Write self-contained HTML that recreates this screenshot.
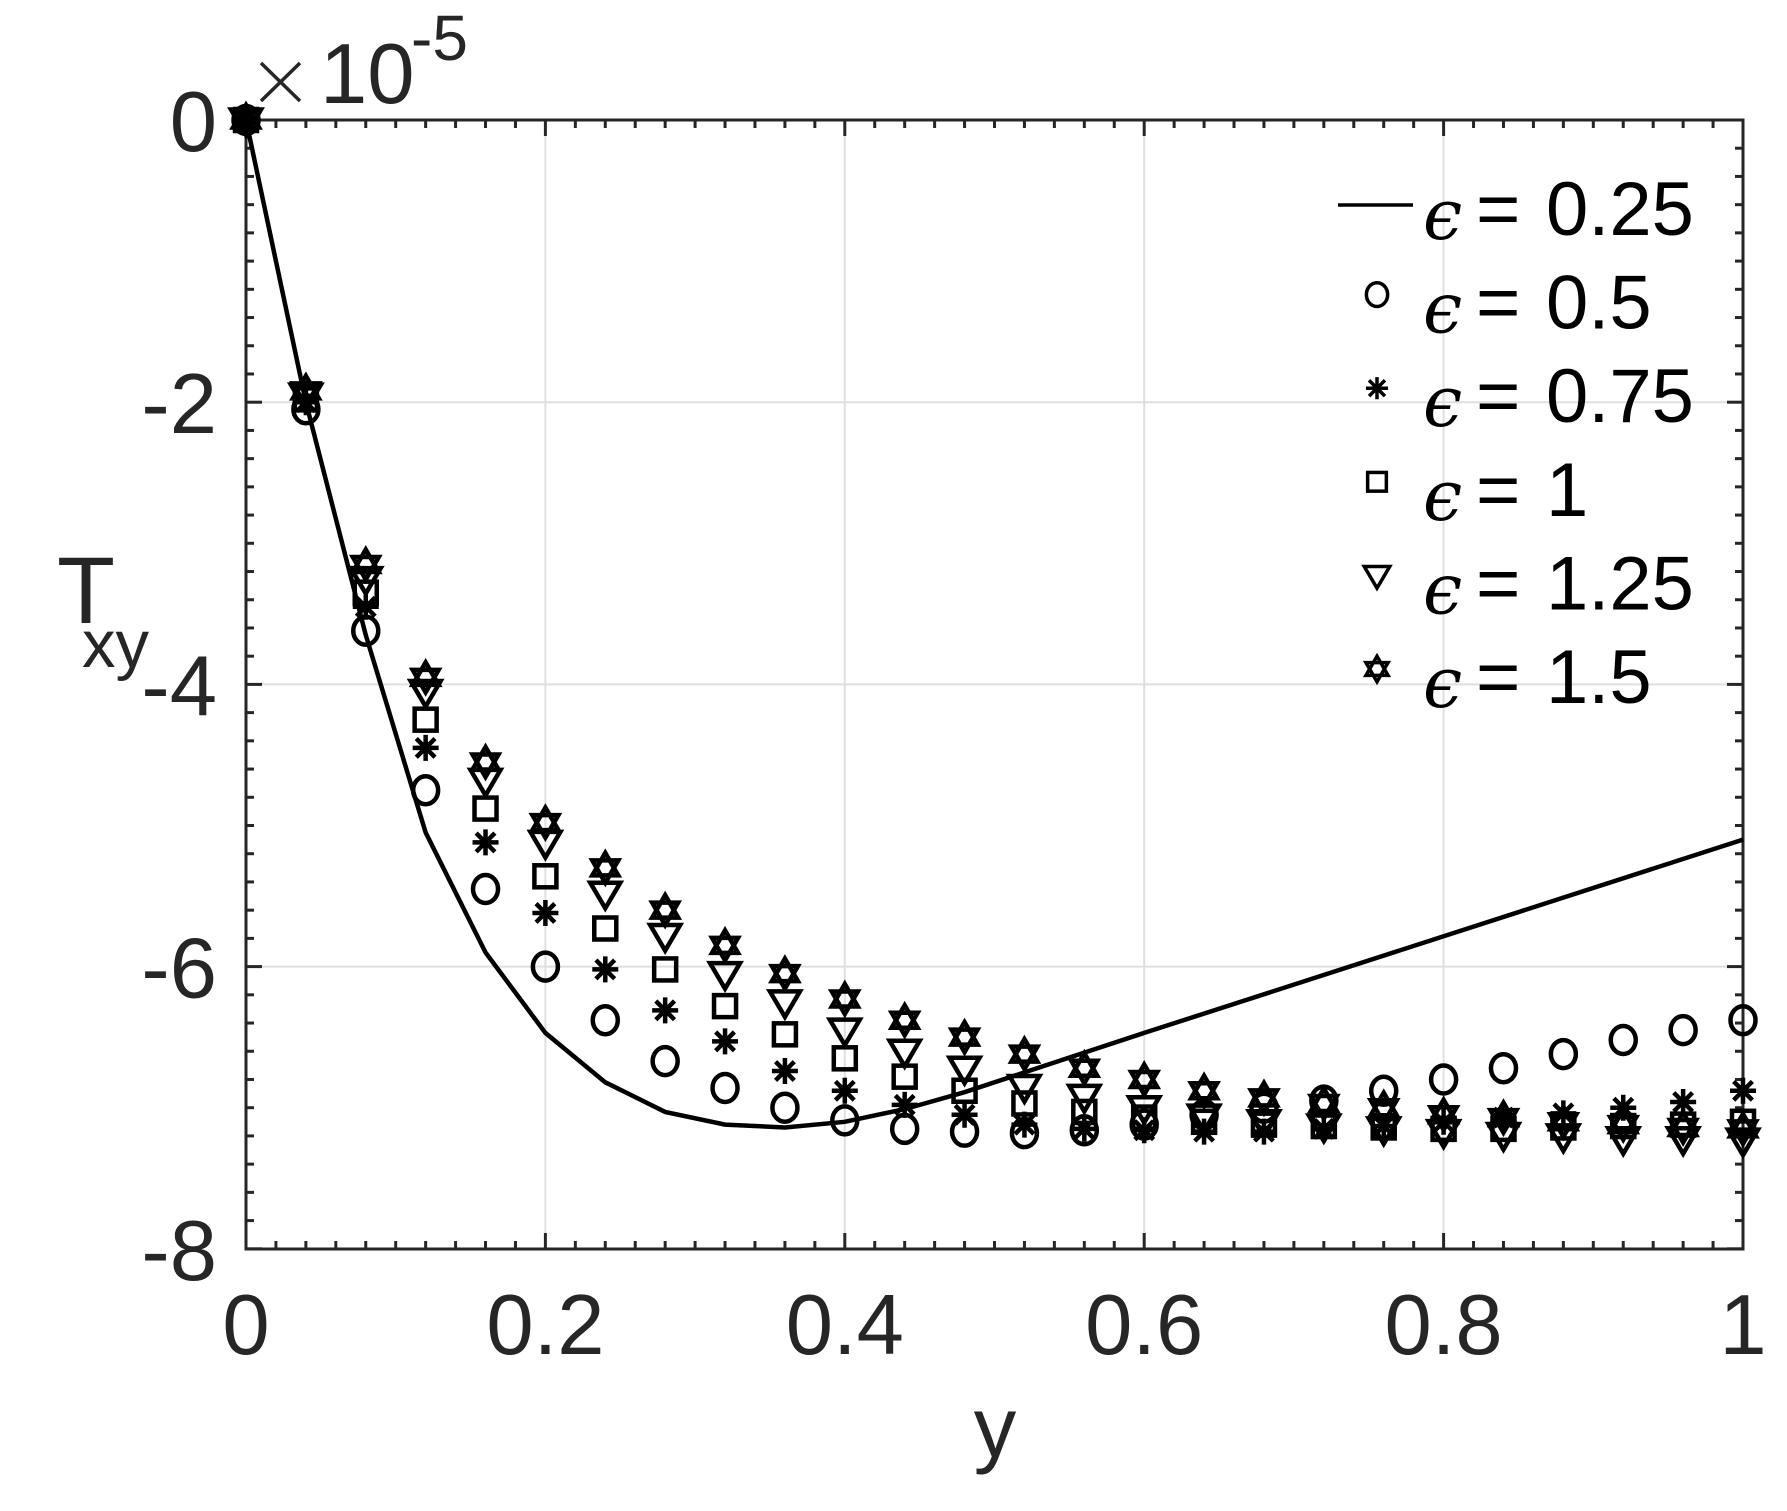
<!DOCTYPE html>
<html><head><meta charset="utf-8"><style>
html,body{margin:0;padding:0;background:#fff;}
svg{display:block;}
text{font-family:"Liberation Sans",sans-serif;fill:#262626;}
</style></head><body>
<svg id="s" width="1787" height="1511" viewBox="0 0 1787 1511" xmlns="http://www.w3.org/2000/svg">
<rect width="1787" height="1511" fill="#fff"/>
<g id="grid" stroke="#dfdfdf" stroke-width="2"></g>
<g id="ticks" stroke="#262626" stroke-width="3"></g>
<rect x="246" y="120" width="1497" height="1129" fill="none" stroke="#262626" stroke-width="3"/>
<g id="labels" font-size="85"></g>
<text x="57" y="623" font-size="95">T</text>
<text x="82" y="667" font-size="67">xy</text>
<text x="995" y="1457" font-size="85" text-anchor="middle">y</text>
<path d="M261,63L300,101M300,63L261,101" stroke="#262626" stroke-width="3.5"/>
<text x="320" y="103" font-size="85">10</text>
<text x="411" y="60" font-size="64">-5</text>
<g id="data" fill="none" stroke="#000" stroke-width="4.5"></g>
<g id="legend"></g>
</svg>
<script>
const NS="http://www.w3.org/2000/svg";
function el(p,t,a,txt){const e=document.createElementNS(NS,t);for(const k in a)e.setAttribute(k,a[k]);if(txt!==undefined)e.textContent=txt;p.appendChild(e);return e;}
const X=v=>246+v*1497, Y=v=>120-v*141.1;
const g=document.getElementById('grid'),tk=document.getElementById('ticks'),lb=document.getElementById('labels');
for(let i=1;i<5;i++){el(g,'line',{x1:X(i*0.2),x2:X(i*0.2),y1:120,y2:1249});}
for(let i=1;i<4;i++){el(g,'line',{x1:246,x2:1743,y1:Y(-2*i),y2:Y(-2*i)});}
for(let i=0;i<=50;i++){const x=X(i*0.02);const L=(i%10==0)?16:8;
 el(tk,'line',{x1:x,x2:x,y1:1249,y2:1249-L});el(tk,'line',{x1:x,x2:x,y1:120,y2:120+L});}
for(let i=0;i<=40;i++){const y=Y(-i*0.2);const L=(i%10==0)?16:8;
 el(tk,'line',{x1:246,x2:246+L,y1:y,y2:y});el(tk,'line',{x1:1743,x2:1743-L,y1:y,y2:y});}
['0','0.2','0.4','0.6','0.8','1'].forEach((t,i)=>el(lb,'text',{x:X(i*0.2),y:1354,'text-anchor':'middle'},t));
['0','-2','-4','-6','-8'].forEach((t,i)=>el(lb,'text',{x:217,y:Y(-2*i)+31,'text-anchor':'end'},t));
const d=document.getElementById('data');
const line=[[0,0],[0.04,-2.0],[0.08,-3.65],[0.12,-5.05],[0.16,-5.9],[0.2,-6.47],[0.24,-6.82],[0.28,-7.03],[0.32,-7.12],[0.36,-7.14],[0.4,-7.1],[0.44,-7.01],[0.48,-6.89],[0.52,-6.75],[0.56,-6.61],[0.6,-6.47],[1,-5.1]];
el(d,'polyline',{points:line.map(p=>X(p[0])+','+Y(p[1])).join(' ')});
const S={
c:[0,-2.05,-3.62,-4.75,-5.45,-6.0,-6.38,-6.67,-6.86,-7.0,-7.09,-7.15,-7.17,-7.18,-7.16,-7.12,-7.05,-7.0,-6.95,-6.88,-6.8,-6.72,-6.62,-6.52,-6.45,-6.38],
a:[0,-2.0,-3.45,-4.45,-5.12,-5.62,-6.02,-6.31,-6.53,-6.74,-6.88,-6.98,-7.05,-7.12,-7.15,-7.16,-7.17,-7.17,-7.15,-7.13,-7.1,-7.07,-7.04,-7.0,-6.96,-6.88],
s:[0,-1.98,-3.35,-4.25,-4.88,-5.36,-5.73,-6.02,-6.28,-6.48,-6.65,-6.78,-6.88,-6.97,-7.03,-7.07,-7.1,-7.12,-7.13,-7.14,-7.15,-7.15,-7.14,-7.13,-7.12,-7.1],
t:[0,-1.95,-3.25,-4.05,-4.68,-5.12,-5.48,-5.78,-6.05,-6.25,-6.45,-6.6,-6.72,-6.85,-6.92,-7.0,-7.06,-7.1,-7.13,-7.15,-7.17,-7.19,-7.2,-7.22,-7.22,-7.23],
h:[0,-1.92,-3.15,-3.95,-4.55,-4.98,-5.3,-5.6,-5.85,-6.05,-6.23,-6.38,-6.5,-6.62,-6.72,-6.8,-6.88,-6.93,-6.97,-7.0,-7.05,-7.07,-7.1,-7.12,-7.14,-7.15]};
function mk(p,type,x,y,sc){sc=sc||1;
 if(type=='c')el(p,'ellipse',{cx:x,cy:y,rx:12.5*sc,ry:14*sc});
 else if(type=='a'){const r=13*sc;el(p,'path',{d:`M${x-r},${y}H${x+r}M${x},${y-r}V${y+r}M${x-r*.72},${y-r*.72}L${x+r*.72},${y+r*.72}M${x-r*.72},${y+r*.72}L${x+r*.72},${y-r*.72}`});}
 else if(type=='s'){const h=11*sc;el(p,'rect',{x:x-h,y:y-h,width:2*h,height:2*h});}
 else if(type=='t'){const h=15*sc;el(p,'path',{d:`M${x-h},${y-h*0.7}H${x+h}L${x},${y+h}Z`});}
 else if(type=='h'){const r=15*sc,q=r*0.5;let a=`M${x},${y-r}L${x+r*.866},${y+q}L${x-r*.866},${y+q}Z M${x},${y+r}L${x+r*.866},${y-q}L${x-r*.866},${y-q}Z`;el(p,'path',{d:a});}
}
for(const k of ['c','a','s','t','h'])S[k].forEach((v,i)=>mk(d,k,X(i*0.04),Y(v)));
const lg=document.getElementById('legend');
const rows=[['0.25'],['0.5','c'],['0.75','a'],['1','s'],['1.25','t'],['1.5','h']];
const mg=el(lg,'g',{fill:'none',stroke:'#000','stroke-width':3.5});
rows.forEach((r,i)=>{const b=235+i*93.6;
 if(i==0)el(mg,'line',{x1:1338,x2:1413,y1:b-30,y2:b-30});else mk(mg,r[1],1377,b-34,0.85);
 el(lg,'text',{x:1423,y:b+4,'font-size':70,'font-style':'italic',style:'font-family:"DejaVu Serif","Liberation Serif",serif;fill:#000'},'\u03F5');
 el(lg,'text',{x:1476,y:b,'font-size':76,style:'fill:#000'},'=');
 el(lg,'text',{x:1546,y:b,'font-size':76,style:'fill:#000'},r[0]);
});
</script>
</body></html>
